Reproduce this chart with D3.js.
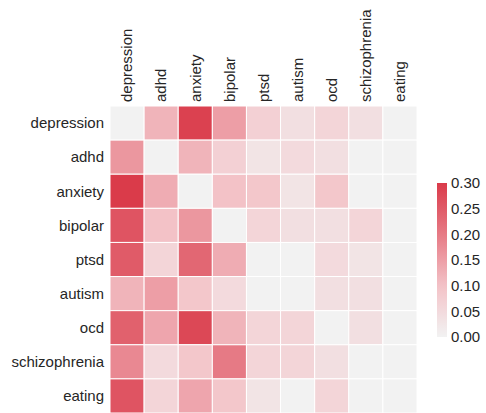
<!DOCTYPE html>
<html><head><meta charset="utf-8">
<script src="https://cdn.jsdelivr.net/npm/d3@7"></script>
<style>body{margin:0;background:#fff}text{font-family:"Liberation Sans",Arial,sans-serif;fill:#262626}</style>
</head><body><svg id="c" width="486" height="413"></svg>
<script>
const categories = ["depression","adhd","anxiety","bipolar","ptsd","autism","ocd","schizophrenia","eating"];
const rowDepression    = [0.00,0.12,0.29,0.15,0.07,0.04,0.06,0.04,0.00];
const rowAdhd          = [0.16,0.00,0.12,0.07,0.03,0.05,0.04,0.00,0.00];
const rowAnxiety       = [0.30,0.13,0.00,0.10,0.09,0.03,0.09,0.00,0.00];
const rowBipolar       = [0.26,0.10,0.16,0.00,0.06,0.04,0.04,0.06,0.00];
const rowPtsd          = [0.25,0.06,0.23,0.13,0.00,0.00,0.05,0.03,0.00];
const rowAutism        = [0.12,0.15,0.09,0.05,0.00,0.00,0.04,0.04,0.00];
const rowOcd           = [0.24,0.14,0.28,0.12,0.06,0.06,0.00,0.04,0.00];
const rowSchizophrenia = [0.18,0.05,0.09,0.20,0.06,0.06,0.04,0.00,0.00];
const rowEating        = [0.26,0.06,0.14,0.09,0.03,0.00,0.06,0.00,0.00];
const values = [rowDepression,rowAdhd,rowAnxiety,rowBipolar,rowPtsd,rowAutism,rowOcd,rowSchizophrenia,rowEating];
const colorTicks = [0,0.05,0.10,0.15,0.20,0.25,0.30];

const svg = d3.select("#c");
const gLeft=110, gTop=106, gSize=307;
const fs = 15;
const x = d3.scaleBand().domain(categories).range([gLeft,gLeft+gSize]);
const y = d3.scaleBand().domain(categories).range([gTop,gTop+gSize]);
const color = d3.scaleLinear().domain([0,0.1,0.2,0.3])
  .range(["#f2f2f2","#f3c2c7","#e67a85","#da3b4a"]).clamp(true);

const cells=[];
values.forEach((r,i)=>r.forEach((v,j)=>cells.push({r:categories[i],c:categories[j],v})));
svg.append("g").selectAll("rect").data(cells).join("rect")
  .attr("x",d=>x(d.c)).attr("y",d=>y(d.r))
  .attr("width",x.bandwidth()).attr("height",y.bandwidth())
  .attr("fill",d=>color(d.v)).attr("stroke","#fff").attr("stroke-width",1);

svg.append("g").selectAll("text").data(categories).join("text")
  .attr("x",104).attr("y",d=>y(d)+y.bandwidth()/2).attr("dy","0.35em")
  .attr("text-anchor","end").attr("font-size",fs).text(d=>d);
svg.append("g").selectAll("text").data(categories).join("text")
  .attr("transform",d=>`translate(${x(d)+x.bandwidth()/2},102) rotate(-90)`)
  .attr("dy","0.35em").attr("text-anchor","start").attr("font-size",fs).text(d=>d);

// colorbar
const cb = d3.scaleLinear().domain([0,0.3]).range([337,183]);
const defs = svg.append("defs");
const grad = defs.append("linearGradient").attr("id","g").attr("x1",0).attr("y1",1).attr("x2",0).attr("y2",0);
d3.range(0,1.0001,0.05).forEach(t=>grad.append("stop").attr("offset",t).attr("stop-color",color(t*0.3)));
svg.append("rect").attr("x",437).attr("y",183).attr("width",10).attr("height",154).attr("fill","url(#g)");
svg.append("g").selectAll("text").data(colorTicks).join("text")
  .attr("x",451).attr("y",d=>cb(d)).attr("dy","0.35em").attr("font-size",fs)
  .text(d=>d3.format(".2f")(d));
</script></body></html>
